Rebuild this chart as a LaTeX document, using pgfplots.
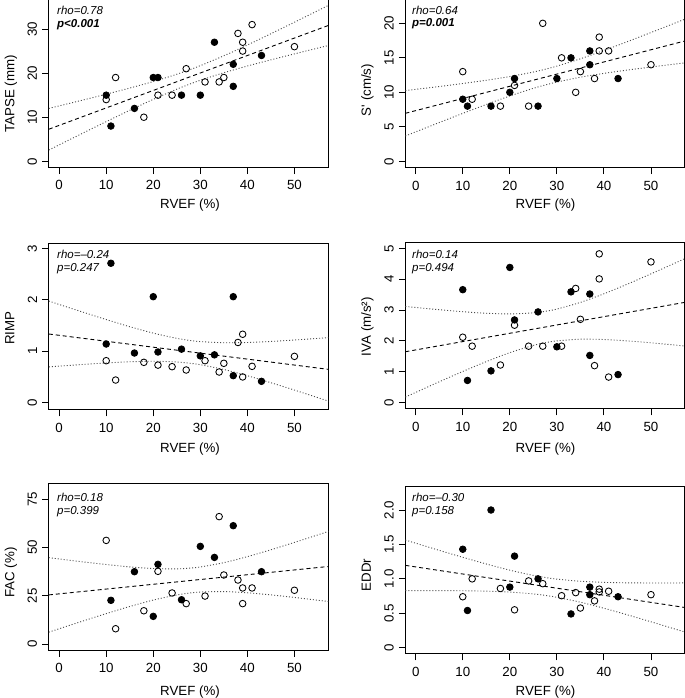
\documentclass[border=0pt]{standalone}
\usepackage{fontspec}
\setmainfont{Liberation Sans}
\usepackage{pgfplots}
\pgfplotsset{compat=1.18}
\pgfplotsset{
  rpanel/.style={
    scale only axis, width=279.5bp,
    xmin=-2.2, xmax=57.2,
    anchor=south west,
    axis line style={line width=0.9bp, black},
    tick align=outside, xtick pos=bottom, ytick pos=left,
    major tick length=6.5bp,
    tick style={line width=0.9bp, black},
    xtick={0,10,20,30,40,50},
    /pgf/number format/assume math mode=true,
    tick label style={font=\fontsize{13.3bp}{15bp}\selectfont},
    xticklabel style={anchor=north, inner sep=0pt, yshift=-6.5bp},
    yticklabel style={xshift=-5bp, rotate=90, anchor=south, inner sep=0pt},
    clip=true,
  },
  fillpt/.style={only marks, mark=*, mark size=3.3bp, mark options={draw=black, fill=black, line width=0.8bp}},
  openpt/.style={only marks, mark=o, mark size=3.3bp, mark options={draw=black, line width=0.85bp}},
  fitline/.style={no marks, black, line width=0.9bp, dash pattern=on 4bp off 3bp},
  bandline/.style={no marks, black!70, line width=0.9bp, dash pattern=on 1bp off 2bp, smooth},
}
\newcommand{\lab}{\fontsize{13.3bp}{15bp}\selectfont}
\newcommand{\ann}{\fontsize{11.5bp}{13bp}\selectfont\itshape}
\begin{document}
\begin{tikzpicture}[x=1bp,y=1bp]
\useasboundingbox (0,0) rectangle (685,-698);
\clip (0,0) rectangle (685,-698);

% ---------- Panel 1: TAPSE ----------
\begin{axis}[rpanel, at={(48.8bp,-167.51bp)}, height=168.94bp, ymin=-1.4, ymax=36.9, ytick={0,10,20,30}]
\addplot[fillpt] coordinates {(10,15) (11,8) (16,12) (20,19) (21,19) (26,15) (30,15) (33,27) (37,22) (37,17) (43,24)};
\addplot[openpt] coordinates {(10,14) (12,19) (18,10) (21,15) (24,15) (27,21) (31,18) (34,18) (35,19) (38,29) (39,27) (39,25) (41,31) (50,26)};
\addplot[fitline] coordinates {(-2.2,7.28) (57.2,30.80)};
\addplot[bandline] coordinates {(-2.2,12.00) (0,12.57) (5,13.88) (10,15.22) (15,16.61) (20,18.09) (25,19.74) (28,20.87) (30,21.69) (35,23.93) (40,26.37) (45,28.93) (50,31.54) (55,34.18) (57.2,35.35)};
\addplot[bandline] coordinates {(-2.2,2.56) (0,3.73) (5,6.38) (10,9.00) (15,11.57) (20,14.05) (25,16.36) (28,17.61) (30,18.38) (35,20.09) (40,21.61) (45,23.01) (50,24.36) (55,25.68) (57.2,26.25)};
\end{axis}

% ---------- Panel 2: S' ----------
\begin{axis}[rpanel, at={(405.35bp,-167.68bp)}, height=169.19bp, ymin=-0.92, ymax=23.6, ytick={0,5,10,15,20}]
\addplot[fillpt] coordinates {(10,9) (11,8) (16,8) (20,10) (21,12) (26,8) (30,12) (33,15) (37,16) (37,14) (43,12)};
\addplot[openpt] coordinates {(10,13) (12,9) (18,8) (21,11) (24,8) (27,20) (31,15) (34,10) (35,13) (38,12) (39,18) (39,16) (41,16) (50,14)};
\addplot[fitline] coordinates {(-2.2,6.96) (57.2,17.44)};
\addplot[bandline] coordinates {(-2.2,10.25) (0,10.43) (5,10.84) (10,11.28) (15,11.75) (20,12.29) (25,12.94) (28,13.43) (30,13.80) (35,14.86) (40,16.07) (45,17.35) (50,18.67) (55,20.01) (57.2,20.61)};
\addplot[bandline] coordinates {(-2.2,3.67) (0,4.27) (5,5.62) (10,6.95) (15,8.24) (20,9.47) (25,10.58) (28,11.15) (30,11.49) (35,12.19) (40,12.75) (45,13.23) (50,13.67) (55,14.09) (57.2,14.27)};
\end{axis}

% ---------- Panel 3: RIMP ----------
\begin{axis}[rpanel, at={(48.8bp,-409.87bp)}, height=166.69bp, ymin=-0.14, ymax=3.10, ytick={0,1,2,3}]
\addplot[fillpt] coordinates {(10,1.14) (11,2.71) (16,0.965) (20,2.06) (21,0.985) (26,1.04) (30,0.91) (33,0.93) (37,2.06) (37,0.525) (43,0.415)};
\addplot[openpt] coordinates {(10,0.816) (12,0.44) (18,0.784) (21,0.73) (24,0.70) (27,0.635) (31,0.816) (34,0.596) (35,0.765) (38,1.17) (39,1.33) (39,0.50) (41,0.706) (50,0.90)};
\addplot[fitline] coordinates {(-2.2,1.335) (57.2,0.648)};
\addplot[bandline] coordinates {(-2.2,1.975) (0,1.909) (5,1.761) (10,1.616) (15,1.477) (20,1.352) (25,1.250) (28,1.207) (30,1.187) (35,1.165) (40,1.170) (45,1.190) (50,1.218) (55,1.250) (57.2,1.265)};
\addplot[bandline] coordinates {(-2.2,0.695) (0,0.710) (5,0.743) (10,0.772) (15,0.795) (20,0.805) (25,0.791) (28,0.764) (30,0.738) (35,0.645) (40,0.524) (45,0.388) (50,0.245) (55,0.097) (57.2,0.031)};
\end{axis}

% ---------- Panel 4: IVA ----------
\begin{axis}[rpanel, at={(405.35bp,-408.84bp)}, height=166.70bp, ymin=-0.2, ymax=5.2, ytick={0,1,2,3,4,5}]
\addplot[fillpt] coordinates {(10,3.66) (11,0.72) (16,1.03) (20,4.38) (21,2.68) (26,2.94) (30,1.81) (33,3.59) (37,3.52) (37,1.53) (43,0.91)};
\addplot[openpt] coordinates {(10,2.12) (12,1.83) (18,1.22) (21,2.51) (24,1.83) (27,1.83) (31,1.83) (34,3.70) (35,2.70) (38,1.20) (39,4.82) (39,4.01) (41,0.83) (50,4.56)};
\addplot[fitline] coordinates {(-2.2,1.65) (57.2,3.25)};
\addplot[bandline] coordinates {(-2.2,3.118) (0,3.084) (5,3.011) (10,2.946) (15,2.896) (20,2.876) (25,2.910) (28,2.971) (30,3.032) (35,3.248) (40,3.528) (45,3.841) (50,4.173) (55,4.514) (57.2,4.666)};
\addplot[bandline] coordinates {(-2.2,0.182) (0,0.334) (5,0.677) (10,1.011) (15,1.330) (20,1.620) (25,1.856) (28,1.955) (30,2.002) (35,2.056) (40,2.046) (45,2.001) (50,1.939) (55,1.868) (57.2,1.835)};
\end{axis}

% ---------- Panel 5: FAC ----------
\begin{axis}[rpanel, at={(48.8bp,-650.38bp)}, height=167.23bp, ymin=-3.3, ymax=83.2, ytick={0,25,50,75}]
\addplot[fillpt] coordinates {(11,22.6) (16,37.4) (20,14.3) (21,41.2) (26,22.9) (30,50.5) (33,44.8) (37,61.2) (43,37.4)};
\addplot[openpt] coordinates {(10,53.6) (12,7.9) (18,17.2) (21,37.6) (24,26.4) (27,20.9) (31,24.8) (34,65.9) (35,35.7) (38,33.1) (39,29.0) (39,20.9) (41,29.0) (50,27.8)};
\addplot[fitline] coordinates {(-2.2,25.40) (57.2,40.10)};
\addplot[bandline] coordinates {(-2.2,44.67) (0,43.99) (5,42.50) (10,41.12) (15,39.90) (20,39.05) (25,38.88) (28,39.30) (30,39.85) (35,42.08) (40,45.19) (45,48.75) (50,52.55) (55,56.47) (57.2,58.23)};
\addplot[bandline] coordinates {(-2.2,6.13) (0,7.89) (5,11.86) (10,15.72) (15,19.40) (20,22.73) (25,25.38) (28,26.44) (30,26.89) (35,27.12) (40,26.50) (45,25.41) (50,24.09) (55,22.63) (57.2,21.97)};
\end{axis}

% ---------- Panel 6: EDDr ----------
\begin{axis}[rpanel, at={(405.35bp,-653.86bp)}, height=167.26bp, ymin=-0.09, ymax=2.34, ytick={0,0.5,1,1.5,2}, yticklabels={0,0.5,1.0,1.5,2.0}]
\addplot[fillpt] coordinates {(10,1.43) (11,0.54) (16,2.0) (20,0.88) (21,1.33) (26,1.00) (33,0.49) (37,0.88) (37,0.77) (43,0.74)};
\addplot[openpt] coordinates {(10,0.74) (12,1.00) (18,0.86) (21,0.55) (24,0.97) (27,0.93) (31,0.755) (34,0.80) (35,0.576) (38,0.68) (39,0.85) (39,0.81) (41,0.82) (50,0.77)};
\addplot[fitline] coordinates {(-2.2,1.196) (57.2,0.584)};
\addplot[bandline] coordinates {(-2.2,1.564) (0,1.518) (5,1.414) (10,1.313) (15,1.216) (20,1.126) (25,1.050) (28,1.015) (30,0.996) (35,0.965) (40,0.949) (45,0.942) (50,0.940) (55,0.940) (57.2,0.941)};
\addplot[bandline] coordinates {(-2.2,0.828) (0,0.829) (5,0.829) (10,0.827) (15,0.821) (20,0.808) (25,0.781) (28,0.755) (30,0.732) (35,0.661) (40,0.573) (45,0.477) (50,0.376) (55,0.273) (57.2,0.228)};
\end{axis}

% ---------- axis labels ----------
\node[anchor=base, inner sep=0pt, font=\lab] at (190,-208.5) {RVEF (\%)};
\node[anchor=base, inner sep=0pt, font=\lab] at (545.5,-208.5) {RVEF (\%)};
\node[anchor=base, inner sep=0pt, font=\lab] at (190,-452.5) {RVEF (\%)};
\node[anchor=base, inner sep=0pt, font=\lab] at (545.5,-452.5) {RVEF (\%)};
\node[anchor=base, inner sep=0pt, font=\lab] at (190,-695) {RVEF (\%)};
\node[anchor=base, inner sep=0pt, font=\lab] at (545.5,-695) {RVEF (\%)};

\node[rotate=90, anchor=base, inner sep=0pt, font=\lab] at (14.3,-94) {TAPSE (mm)};
\node[rotate=90, anchor=base, inner sep=0pt, font=\lab] at (370.85,-90) {S\textquotesingle\ (cm/s)};
\node[rotate=90, anchor=base, inner sep=0pt, font=\lab] at (14.3,-328) {RIMP};
\node[rotate=90, anchor=base, inner sep=0pt, font=\lab] at (370.85,-326.7) {IVA (m/s²)};
\node[rotate=90, anchor=base, inner sep=0pt, font=\lab] at (14.3,-572.5) {FAC (\%)};
\node[rotate=90, anchor=base, inner sep=0pt, font=\lab] at (370.85,-575) {EDDr};

% ---------- annotations ----------
\node[anchor=base west, inner sep=0pt, font=\ann] at (57,-15) {rho=0.78};
\node[anchor=base west, inner sep=0pt, font=\ann\bfseries] at (57,-27.5) {p<0.001};
\node[anchor=base west, inner sep=0pt, font=\ann] at (412,-14.7) {rho=0.64};
\node[anchor=base west, inner sep=0pt, font=\ann\bfseries] at (412,-27) {p=0.001};
\node[anchor=base west, inner sep=0pt, font=\ann] at (57,-258) {rho=\textendash0.24};
\node[anchor=base west, inner sep=0pt, font=\ann] at (57,-271) {p=0.247};
\node[anchor=base west, inner sep=0pt, font=\ann] at (412,-258) {rho=0.14};
\node[anchor=base west, inner sep=0pt, font=\ann] at (412,-271) {p=0.494};
\node[anchor=base west, inner sep=0pt, font=\ann] at (57,-501.7) {rho=0.18};
\node[anchor=base west, inner sep=0pt, font=\ann] at (57,-514) {p=0.399};
\node[anchor=base west, inner sep=0pt, font=\ann] at (412,-501.7) {rho=\textendash0.30};
\node[anchor=base west, inner sep=0pt, font=\ann] at (412,-514) {p=0.158};
\end{tikzpicture}
\end{document}
